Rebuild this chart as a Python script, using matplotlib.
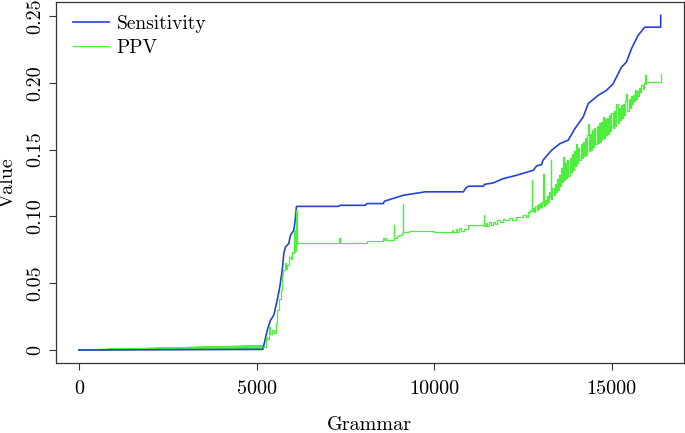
import matplotlib
matplotlib.use("Agg")
import matplotlib.pyplot as plt
from matplotlib.ticker import FixedLocator, FuncFormatter

plt.rcParams['font.family'] = 'cmr10'
plt.rcParams['axes.formatter.use_mathtext'] = True
plt.rcParams['mathtext.fontset'] = 'cm'

# Sensitivity curve
sens_x = [0, 5177, 5301, 5393, 5486, 5581, 5654, 5722, 5767, 5815, 5907, 5955, 6048, 6076, 6124,
          7303, 7350, 8062, 8100, 8567, 8600, 9129, 9747, 10449, 10824, 10880, 10964, 11385, 11420,
          11666, 11947, 12322, 12790, 12830, 12884, 13025, 13060, 13306, 13539, 13772, 13961,
          14195, 14335, 14616, 14850, 15037, 15272, 15412, 15553, 15739, 15927, 16376, 16376]
sens_y = [0, 0.0005, 0.0149, 0.0224, 0.0262, 0.0374, 0.0473, 0.0598, 0.0723, 0.0772, 0.0797, 0.0860,
          0.0897, 0.0949, 0.1075, 0.1075, 0.1083, 0.1083, 0.1096, 0.1096, 0.1114, 0.1158, 0.1184,
          0.1184, 0.1184, 0.1210, 0.1226, 0.1226, 0.1240, 0.1251, 0.1283, 0.1308, 0.1345, 0.1360,
          0.1378, 0.1388, 0.1420, 0.1495, 0.1545, 0.1570, 0.1657, 0.1744, 0.1844, 0.1906, 0.1943,
          0.1993, 0.2117, 0.2155, 0.2255, 0.2354, 0.2416, 0.2416, 0.2504]

# PPV: first few grammars (fan near zero)
ppv_fan_x = [0, 5177, 0, 5177, 0, 5177, 0, 5177]
ppv_fan_y = [0, 0.0032, 0, 0.0024, 0, 0.0016, 0, 0.0025]

# PPV: remaining grammars
ppv_x = [5177, 5253, 5300, 5346, 5390, 5440, 5480, 5534, 5581, 5630, 5674, 5720, 5750, 5795,
         5830, 5862, 5907, 5955, 6003, 6048, 6067, 6080, 6096, 6115, 6124, 6130,
         7320, 7331, 7342, 8100, 8110, 8500, 8560, 8576, 8600, 8640, 8857, 8862, 8870, 8950, 9000,
         9080, 9110, 9120, 9280, 9300, 10000, 10449, 10500, 10540, 10600, 10650, 10700, 10760,
         10850, 10964, 11385, 11390, 11400, 11450, 11500, 11550, 11600, 11650, 11700, 11760,
         11850, 11947, 12000, 12100, 12200, 12300, 12416, 12500, 12580, 12650,
         12697, 12744, 12760, 12790, 12820, 12850, 12880, 12910, 12940, 12970, 13000, 13035,
         13071, 13090, 13120, 13150, 13180, 13210, 13240, 13258, 13277, 13300, 13330, 13360,
         13390, 13420, 13450, 13480, 13510, 13540, 13570, 13600, 13633, 13660, 13690, 13720,
         13750, 13780, 13810, 13840, 13870, 13900, 13930, 13960, 14000, 14030, 14060, 14090,
         14120, 14150, 14180, 14210, 14240, 14270, 14300, 14335, 14360, 14390, 14420, 14450,
         14480, 14510, 14540, 14570, 14600, 14630, 14660, 14690, 14720, 14757, 14780, 14810,
         14840, 14870, 14900, 14930, 14960, 14990, 15020, 15050, 15080, 15110, 15131, 15160,
         15190, 15220, 15250, 15280, 15310, 15340, 15370, 15412, 15440, 15470, 15500, 15530,
         15560, 15590, 15620, 15646, 15680, 15710, 15739, 15770, 15800, 15833, 15870, 15900,
         15927, 15950, 15974, 16376, 16376]
ppv_y = [0.0025, 0.0100, 0.0080, 0.0174, 0.0120, 0.0149, 0.0130, 0.0199, 0.0299, 0.0380, 0.0448,
         0.0560, 0.0598, 0.0648, 0.0610, 0.0635, 0.0697, 0.0685, 0.0735, 0.0723, 0.0897, 0.0740,
         0.0747, 0.1046, 0.0797, 0.0802,
         0.0802, 0.0839, 0.0802, 0.0802, 0.0815, 0.0815, 0.0840, 0.0820, 0.0835, 0.0822, 0.0830,
         0.0934, 0.0840, 0.0850, 0.0860, 0.0875, 0.1091, 0.0880, 0.0880, 0.0892, 0.0884, 0.0884,
         0.0895, 0.0880, 0.0905, 0.0885, 0.0910, 0.0890, 0.0905, 0.0934, 0.0934, 0.1009, 0.0930,
         0.0950, 0.0925, 0.0960, 0.0935, 0.0955, 0.0940, 0.0970, 0.0960, 0.0984, 0.0970, 0.0985,
         0.0975, 0.0995, 0.0996, 0.1010, 0.0995, 0.1030,
         0.1046, 0.1271, 0.1040, 0.1065, 0.1035, 0.1075, 0.1050, 0.1096, 0.1060, 0.1100, 0.1070,
         0.1110, 0.1321, 0.1080, 0.1125, 0.1095, 0.1150, 0.1110, 0.1180, 0.1146, 0.1420, 0.1130,
         0.1210, 0.1160, 0.1240, 0.1180, 0.1280, 0.1200, 0.1310, 0.1230, 0.1360, 0.1260, 0.1445,
         0.1270, 0.1400, 0.1290, 0.1420, 0.1300, 0.1440, 0.1330, 0.1470, 0.1350, 0.1490, 0.1380,
         0.1545, 0.1400, 0.1510, 0.1420, 0.1540, 0.1440, 0.1560, 0.1450, 0.1590, 0.1460, 0.1610,
         0.1694, 0.1490, 0.1620, 0.1500, 0.1650, 0.1520, 0.1660, 0.1540, 0.1680, 0.1550, 0.1700,
         0.1560, 0.1710, 0.1580, 0.1744, 0.1590, 0.1730, 0.1610, 0.1740, 0.1620, 0.1760, 0.1640,
         0.1770, 0.1660, 0.1790, 0.1680, 0.1800, 0.1844, 0.1700, 0.1810, 0.1720, 0.1830, 0.1740,
         0.1840, 0.1760, 0.1860, 0.1919, 0.1790, 0.1880, 0.1810, 0.1900, 0.1840, 0.1910, 0.1860,
         0.1943, 0.1880, 0.1940, 0.1900, 0.1960, 0.1930, 0.1981, 0.1950, 0.2000, 0.2055, 0.1990,
         0.2005, 0.2005, 0.2068]

xticks = [0, 5000, 10000, 15000]
yticks = [0, 0.05, 0.10, 0.15, 0.20, 0.25]

fig = plt.figure(figsize=(6.85, 4.33), dpi=100)
ax = fig.add_axes([0.0813, 0.1607, 0.9172, 0.8346])

green = '#4cf03c'
blue = '#2444d4'
ax.plot(ppv_fan_x, ppv_fan_y, color=green, lw=0.9)
ax.plot(sens_x, sens_y, color=blue, lw=1.2, label='Sensitivity')
ax.plot(ppv_x, ppv_y, color=green, lw=0.9, drawstyle='steps-post', label='PPV')

ax.set_xlim(-655, 17031)
ax.set_ylim(-0.01, 0.2604)
ax.xaxis.set_major_locator(FixedLocator(xticks))
ax.yaxis.set_major_locator(FixedLocator(yticks))
ax.yaxis.set_major_formatter(FuncFormatter(lambda v, p: '0' if v == 0 else f'{v:.2f}'))
ax.xaxis.set_major_formatter(FuncFormatter(lambda v, p: f'{int(v)}'))
ax.tick_params(axis='both', labelsize=14.5, length=5, width=0.8, color='#333333')
ax.tick_params(axis='x', pad=7)
ax.tick_params(axis='y', pad=3)
for lab in ax.get_yticklabels():
    lab.set_rotation(90)
    lab.set_va('center')
for s in ax.spines.values():
    s.set_color('#333333')
    s.set_linewidth(0.9)

ax.set_xlabel('Grammar', fontsize=14.5)
ax.set_ylabel('Value', fontsize=14.5)
ax.xaxis.set_label_coords(0.5, -0.146)
ax.yaxis.set_label_coords(-0.062, 0.5)

ax.legend(loc='upper left', bbox_to_anchor=(0.0275, 0.964), frameon=False, fontsize=14,
          borderpad=0, borderaxespad=0, handlelength=1.85, handletextpad=0.4, labelspacing=0.3)

fig.savefig('out.png', dpi=100)
